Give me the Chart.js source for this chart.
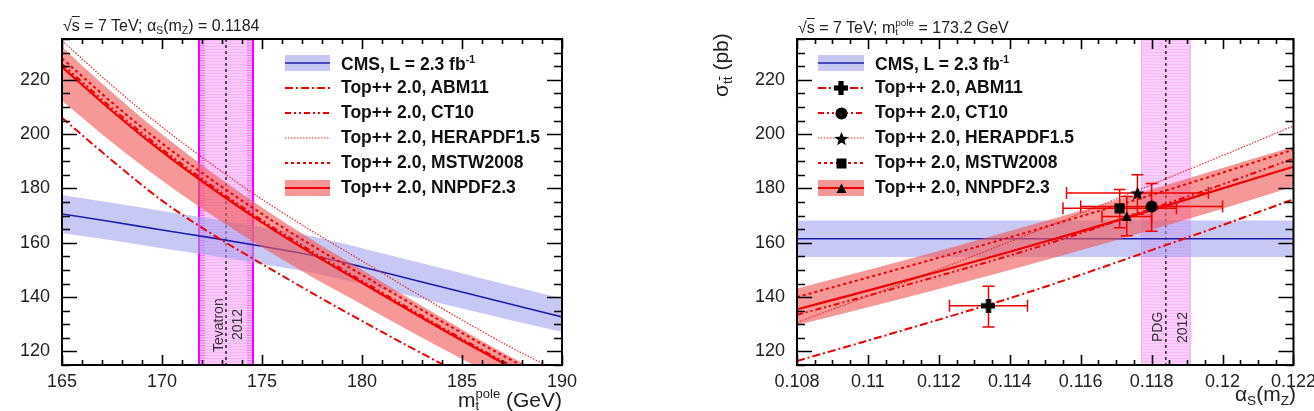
<!DOCTYPE html>
<html><head><meta charset="utf-8">
<script src="https://cdn.jsdelivr.net/npm/chart.js@4.4.1/dist/chart.umd.min.js"></script>
<style>
html,body{margin:0;padding:0;background:#fff}
#wrap{position:relative;width:1314px;height:411px;overflow:hidden;font-family:"Liberation Sans",Arial,Helvetica,sans-serif;color:#222}
canvas{position:absolute;top:0}
.t{position:absolute;white-space:nowrap;line-height:1}
.leg{font-weight:bold;font-size:17.5px;color:#111}
.ttl{font-size:16px}
.axt{font-size:21px}
.ss{display:inline-block;vertical-align:-0.28em;font-size:0.62em;line-height:0.95;text-align:left}
.ss span{display:block}
.sub{font-size:0.65em;vertical-align:-0.3em}
.ov{text-decoration:overline}
.rot{transform-origin:0 0;transform:rotate(-90deg)}
.lab{font-size:14px;color:#333}
</style></head>
<body>
<div id="wrap">
<canvas id="cL" width="657" height="411" style="left:0"></canvas>
<canvas id="cR" width="657" height="411" style="left:657px"></canvas>

<div class="t ttl" style="left:63px;top:18px">√<span class="ov">s</span> = 7 TeV; α<span class="sub">S</span>(m<span class="sub">Z</span>) = 0.1184</div>
<div class="t ttl" style="left:798px;top:18px">√<span class="ov">s</span> = 7 TeV; m<span class="ss"><span>pole</span><span>t</span></span> = 173.2 GeV</div>

<div class="t axt" style="right:752px;top:388px">m<span class="ss"><span>pole</span><span>t</span></span> (GeV)</div>
<div class="t axt" style="right:18px;top:383px">α<span class="sub">S</span>(m<span class="sub">Z</span>)</div>

<div class="t axt rot" style="left:-23px;top:97px">σ<span class="sub">t<span class="ov">t</span></span> (pb)</div>
<div class="t axt rot" style="left:710px;top:97px">σ<span class="sub">t<span class="ov">t</span></span> (pb)</div>

<div class="t lab rot" style="left:211px;top:352px">Tevatron</div>
<div class="t lab rot" style="left:230px;top:340px">2012</div>
<div class="t lab rot" style="left:1150px;top:342px">PDG</div>
<div class="t lab rot" style="left:1175px;top:343px">2012</div>

<div id="legL"></div>
<div id="legR"></div>
</div>
<script>
// ---------------- DATA ----------------
// Left panel: cross section vs top-quark pole mass (alpha_S(mZ) = 0.1184)
const massPoints   = [165, 167.5, 170, 172.5, 175, 177.5, 180, 182.5, 185, 187.5, 190];
const cmsVsMass    = [170.6, 167.7, 164.7, 161.8, 158.7, 155.4, 151.1, 146.5, 141.9, 137.3, 132.7];
const cmsVsMassLo  = [163.6, 160.9, 158.0, 155.2, 152.2, 149.0, 144.8, 140.3, 135.8, 131.4, 127.2];
const cmsVsMassHi  = [177.6, 174.7, 171.7, 168.8, 165.7, 162.4, 158.0, 153.4, 148.8, 144.1, 139.5];
const nnpdfVsMass   = [224.7, 208.5, 193.5, 180.0, 167.5, 156.0, 145.3, 134.5, 124.0, 114.0, 105.0];
const nnpdfVsMassLo = [212.3, 197.0, 182.9, 170.1, 158.3, 147.4, 137.3, 127.1, 117.2, 107.7, 99.2];
const nnpdfVsMassHi = [232.1, 215.4, 199.9, 185.9, 173.0, 161.1, 150.1, 138.9, 128.1, 117.8, 108.5];
const mstwVsMass    = [227.9, 211.6, 196.6, 183.1, 170.6, 159.0, 148.2, 137.4, 126.8, 116.7, 107.5];
const heraVsMass    = [234.4, 217.9, 202.6, 188.8, 176.0, 164.3, 153.3, 142.3, 131.6, 121.3, 112.0];
const ct10VsMass    = [225.8, 209.5, 194.5, 180.9, 168.3, 156.8, 146.0, 135.2, 124.6, 114.6, 105.5];
const abmVsMass     = [206.0, 190.3, 175.5, 163.2, 152.2, 141.5, 131.2, 121.2, 111.5, 102.5, 94.5];
const tevatronMass  = [171.8, 173.2, 174.6]; // low, central, high

// Right panel: cross section vs alpha_S(mZ) (m_t^pole = 173.2 GeV)
const alphaPoints  = [0.108, 0.110, 0.112, 0.114, 0.116, 0.118, 0.120, 0.122];
const cmsVsAlpha   = [161.5, 161.5, 161.5, 161.5, 161.5, 161.5, 161.5, 161.5];
const cmsVsAlphaLo = [154.8, 154.8, 154.8, 154.8, 154.8, 154.8, 154.8, 154.8];
const cmsVsAlphaHi = [168.2, 168.2, 168.2, 168.2, 168.2, 168.2, 168.2, 168.2];
const nnpdfVsAlpha   = [135.5, 142.4, 149.4, 156.7, 164.2, 172.0, 180.0, 188.0];
const nnpdfVsAlphaLo = [129.7, 136.3, 143.0, 150.0, 157.2, 164.8, 172.5, 180.7];
const nnpdfVsAlphaHi = [143.2, 150.0, 157.0, 164.3, 171.8, 179.6, 187.5, 195.3];
const mstwVsAlpha    = [140.0, 147.2, 154.5, 162.0, 169.7, 177.6, 185.8, 194.3];
const heraVsAlpha    = [130.7, 140.3, 150.2, 160.4, 170.8, 181.4, 192.1, 203.0];
const ct10VsAlpha    = [133.5, 140.5, 147.8, 155.3, 163.5, 172.5, 181.5, 191.0];
const abmVsAlpha     = [116.5, 124.0, 131.7, 139.6, 148.2, 157.3, 166.5, 176.0];
const pdgAlpha       = [0.1177, 0.1184, 0.1191]; // low, central, high

// Extracted alpha_S points (one per PDF set)
const pdfSets    = ['ABM11', 'CT10', 'HERAPDF1.5', 'MSTW2008', 'NNPDF2.3'];
const alphaFit   = [0.1134, 0.1180, 0.1176, 0.1171, 0.1173];
const alphaFitLo = [0.1123, 0.1160, 0.1156, 0.1155, 0.1166];
const alphaFitHi = [0.1145, 0.1200, 0.1196, 0.1187, 0.1180];
const sigmaFit   = [136.8, 173.3, 178.3, 172.7, 169.7];
const sigmaFitLo = [129.0, 164.2, 170.5, 165.5, 162.6];
const sigmaFitHi = [144.0, 181.8, 185.0, 179.6, 177.0];

// Axis ticks
const massTicks  = [165, 170, 175, 180, 185, 190];
const alphaTicks = [0.108, 0.110, 0.112, 0.114, 0.116, 0.118, 0.120, 0.122];
const alphaTickLabels = ['0.108', '0.11', '0.112', '0.114', '0.116', '0.118', '0.12', '0.122'];
const sigmaTicks = [120, 140, 160, 180, 200, 220];
const legendLabels = ['CMS, L = 2.3 fb<sup style="font-size:0.6em">-1</sup>', 'Top++ 2.0, ABM11', 'Top++ 2.0, CT10',
                      'Top++ 2.0, HERAPDF1.5', 'Top++ 2.0, MSTW2008', 'Top++ 2.0, NNPDF2.3'];

// ---------------- STYLE ----------------
const FONT = "'Liberation Sans', Arial, Helvetica, sans-serif";
const RED = 'rgb(240,0,0)';
const RED_BAND = 'rgba(242,88,88,0.62)';
const BLUE = 'rgb(30,30,170)';
const BLUE_BAND = 'rgba(160,160,238,0.58)';
const DASH = {abm:[8,3,2,3], ct10:[6,3,2,3,2,3], hera:[1.5,1.5], mstw:[3,3]};

Chart.defaults.font.family = FONT;

function xy(xs, ys) { return xs.map((x, i) => ({x: x, y: ys[i]})); }
function lineDs(xs, ys, color, width, dash, order, extra) {
  return Object.assign({type:'line', data: xy(xs, ys), borderColor: color, borderWidth: width,
    borderDash: dash, pointRadius: 0, fill: false, order: order, cubicInterpolationMode: 'monotone'}, extra || {});
}

// marker images
function markerCanvas(kind) {
  const s = kind === 'star' ? 15 : (kind === 'plus' ? 14 : (kind === 'circle' ? 13 : 11));
  const c = document.createElement('canvas'); c.width = s; c.height = s;
  const g = c.getContext('2d'); g.fillStyle = '#000'; const h = s / 2;
  if (kind === 'plus') { const a = 2.6; g.fillRect(h - a, 0, 2 * a, s); g.fillRect(0, h - a, s, 2 * a); }
  else if (kind === 'circle') { g.beginPath(); g.arc(h, h, h - 0.5, 0, Math.PI * 2); g.fill(); }
  else if (kind === 'rect') { g.fillRect(0.5, 0.5, s - 1, s - 1); }
  else if (kind === 'tri') { g.beginPath(); g.moveTo(h, 0.5); g.lineTo(s - 0.5, s - 1); g.lineTo(0.5, s - 1); g.closePath(); g.fill(); }
  else if (kind === 'star') { g.beginPath(); for (let i = 0; i < 10; i++) { const r = i % 2 ? h * 0.42 : h; const an = -Math.PI / 2 + i * Math.PI / 5; g.lineTo(h + r * Math.cos(an), h + 0.8 + r * Math.sin(an)); } g.closePath(); g.fill(); }
  return c;
}
const MARK = {plus: markerCanvas('plus'), circle: markerCanvas('circle'), star: markerCanvas('star'), rect: markerCanvas('rect'), tri: markerCanvas('tri')};
const pdfMarkers = [MARK.plus, MARK.circle, MARK.star, MARK.rect, MARK.tri];

// ---------------- PLUGINS ----------------
const vbandPlugin = {
  id: 'vband',
  beforeDatasetsDraw(chart, args, o) {
    if (!o || !o.range) return;
    const g = chart.ctx, a = chart.chartArea, sx = chart.scales.x;
    const x0 = sx.getPixelForValue(o.range[0]), xm = sx.getPixelForValue(o.range[1]), x1 = sx.getPixelForValue(o.range[2]);
    g.save();
    g.beginPath(); g.rect(a.left, a.top, a.right - a.left, a.bottom - a.top); g.clip();
    g.fillStyle = o.fill; g.fillRect(x0, a.top, x1 - x0, a.bottom - a.top);
    g.strokeStyle = o.stripe; g.lineWidth = 1;
    for (let yy = a.top + 1.5; yy < a.bottom; yy += 3) { g.beginPath(); g.moveTo(x0, yy); g.lineTo(x1, yy); g.stroke(); }
    if (o.edgeW) {
      g.strokeStyle = o.edgeStripe;
      for (let yy = a.top + 1.5; yy < a.bottom; yy += 2.5) {
        g.beginPath(); g.moveTo(x0, yy); g.lineTo(x0 + o.edgeW, yy); g.moveTo(x1 - o.edgeW, yy); g.lineTo(x1, yy); g.stroke();
      }
    }
    g.strokeStyle = o.edge; g.lineWidth = o.edgeLW;
    g.beginPath(); g.moveTo(x0 + o.edgeLW / 2, a.top); g.lineTo(x0 + o.edgeLW / 2, a.bottom);
    g.moveTo(x1 - o.edgeLW / 2, a.top); g.lineTo(x1 - o.edgeLW / 2, a.bottom); g.stroke();
    g.strokeStyle = '#333'; g.lineWidth = 1.6; g.setLineDash([3, 3]);
    g.beginPath(); g.moveTo(xm, a.top); g.lineTo(xm, a.bottom); g.stroke();
    g.restore();
  }
};

const errbarPlugin = {
  id: 'errbars',
  beforeDatasetDraw(chart, args, o) {
    if (!o || !o.on || args.meta.type !== 'scatter') return;
    const g = chart.ctx, sx = chart.scales.x, sy = chart.scales.y, cap = 6;
    g.save(); g.strokeStyle = RED; g.lineWidth = 1.5;
    for (let i = 0; i < alphaFit.length; i++) {
      const px = sx.getPixelForValue(alphaFit[i]), py = sy.getPixelForValue(sigmaFit[i]);
      const xl = sx.getPixelForValue(alphaFitLo[i]), xh = sx.getPixelForValue(alphaFitHi[i]);
      const yl = sy.getPixelForValue(sigmaFitLo[i]), yh = sy.getPixelForValue(sigmaFitHi[i]);
      g.beginPath();
      g.moveTo(xl, py); g.lineTo(xh, py); g.moveTo(xl, py - cap); g.lineTo(xl, py + cap); g.moveTo(xh, py - cap); g.lineTo(xh, py + cap);
      g.moveTo(px, yl); g.lineTo(px, yh); g.moveTo(px - cap, yl); g.lineTo(px + cap, yl); g.moveTo(px - cap, yh); g.lineTo(px + cap, yh);
      g.stroke();
    }
    g.restore();
  }
};

const framePlugin = {
  id: 'frame',
  afterDatasetsDraw(chart, args, o) {
    const g = chart.ctx, a = chart.chartArea, sx = chart.scales.x, sy = chart.scales.y;
    g.save(); g.strokeStyle = '#000'; g.lineWidth = 1.6;
    const near = (v, arr) => arr.some(t => Math.abs(t - v) < 1e-9);
    const nx = Math.round((o.xmax - o.xmin) / o.xMinor);
    g.beginPath();
    for (let i = 0; i <= nx; i++) {
      const v = o.xmin + i * o.xMinor, p = Math.round(sx.getPixelForValue(v)) + 0.5;
      const L = near(v, o.xMajor) ? 10 : 5;
      g.moveTo(p, a.bottom); g.lineTo(p, a.bottom - L);
      g.moveTo(p, a.top); g.lineTo(p, a.top + L);
    }
    const ny = Math.round((o.ymax - o.ymin) / o.yMinor);
    for (let i = 0; i <= ny; i++) {
      const v = o.ymin + i * o.yMinor, p = Math.round(sy.getPixelForValue(v)) + 0.5;
      const L = near(v, o.yMajor) ? 15 : 8;
      g.moveTo(a.left, p); g.lineTo(a.left + L, p);
      g.moveTo(a.right, p); g.lineTo(a.right - L, p);
    }
    g.stroke();
    g.lineWidth = 2;
    g.strokeRect(a.left, a.top, a.right - a.left, a.bottom - a.top);
    g.restore();
  }
};

const legendPlugin = {
  id: 'legx',
  afterDraw(chart, args, o) {
    if (!o || !o.rows) return;
    const g = chart.ctx, x0 = o.x0, x1 = o.x1, xc = (x0 + x1) / 2;
    g.save();
    o.rows.forEach((y, i) => {
      const e = o.entries[i];
      if (e.band) { g.fillStyle = e.band; g.fillRect(x0, y - 8, x1 - x0, 16); }
      g.strokeStyle = e.color; g.lineWidth = e.width; g.setLineDash(e.dash || []);
      g.beginPath(); g.moveTo(x0, y); g.lineTo(x1, y); g.stroke();
      if (o.markers && e.marker) { g.drawImage(e.marker, Math.round(xc - e.marker.width / 2), Math.round(y - e.marker.height / 2)); }
    });
    g.restore();
  }
};

// ---------------- CHART BUILDER ----------------
function options(p) {
  return {
    responsive: false, animation: false, devicePixelRatio: 1, events: [],
    layout: {padding: {left: 0, top: 39, right: p.padRight, bottom: 0}},
    scales: {
      x: {type: 'linear', min: p.xmin, max: p.xmax, grid: {display: false}, border: {display: false},
          ticks: {color: '#222', font: {size: 18, family: FONT}, padding: -2, maxRotation: 0, autoSkip: false,
                  callback: p.xLabel},
          afterBuildTicks: s => { s.ticks = p.xMajor.map(v => ({value: v})); },
          afterFit: s => { s.height = 46; }},
      y: {type: 'linear', min: 115, max: 235, grid: {display: false}, border: {display: false},
          ticks: {color: '#222', font: {size: 18, family: FONT}, padding: 4, autoSkip: false},
          afterBuildTicks: s => { s.ticks = sigmaTicks.map(v => ({value: v})); },
          afterFit: s => { s.width = p.yWidth; }}
    },
    plugins: {
      legend: {display: false}, tooltip: {enabled: false}, title: {display: false},
      filler: {propagate: false},
      vband: p.vband,
      errbars: {on: !!p.errbars},
      frame: {xmin: p.xmin, xmax: p.xmax, xMinor: p.xMinor, xMajor: p.xMajor, ymin: 115, ymax: 235, yMinor: 5, yMajor: sigmaTicks},
      legx: p.legend
    }
  };
}

function datasets(xs, v) {
  return [
    lineDs(xs, v.nnpdf, RED, 2.2, [], 1),
    lineDs(xs, v.mstw, RED, 2, DASH.mstw, 2),
    lineDs(xs, v.hera, 'rgb(235,40,40)', 1.2, DASH.hera, 3),
    lineDs(xs, v.ct10, RED, 2, DASH.ct10, 4),
    lineDs(xs, v.abm, RED, 2, DASH.abm, 5),
    lineDs(xs, v.nnpdfHi, 'rgba(0,0,0,0)', 0, [], 6, {fill: '+1', backgroundColor: RED_BAND}),
    lineDs(xs, v.nnpdfLo, 'rgba(0,0,0,0)', 0, [], 7),
    lineDs(xs, v.cms, BLUE, 1.6, [], 8),
    lineDs(xs, v.cmsHi, 'rgba(0,0,0,0)', 0, [], 9, {fill: '+1', backgroundColor: BLUE_BAND}),
    lineDs(xs, v.cmsLo, 'rgba(0,0,0,0)', 0, [], 10)
  ];
}

const legendEntries = [
  {band: BLUE_BAND, color: BLUE, width: 1.6},
  {color: RED, width: 2, dash: DASH.abm, marker: MARK.plus},
  {color: RED, width: 2, dash: DASH.ct10, marker: MARK.circle},
  {color: 'rgb(235,40,40)', width: 1.2, dash: DASH.hera, marker: MARK.star},
  {color: RED, width: 2, dash: DASH.mstw, marker: MARK.rect},
  {band: RED_BAND, color: RED, width: 2.2, marker: MARK.tri}
];
const legendRows = [63, 88, 113, 138, 163, 188];

new Chart(document.getElementById('cL'), {
  type: 'line',
  data: {datasets: datasets(massPoints, {nnpdf: nnpdfVsMass, mstw: mstwVsMass, hera: heraVsMass, ct10: ct10VsMass, abm: abmVsMass,
    nnpdfHi: nnpdfVsMassHi, nnpdfLo: nnpdfVsMassLo, cms: cmsVsMass, cmsHi: cmsVsMassHi, cmsLo: cmsVsMassLo})},
  options: options({xmin: 165, xmax: 190, xMajor: massTicks, xMinor: 1, yWidth: 62, padRight: 95,
    xLabel: v => String(v),
    vband: {range: tevatronMass, fill: 'rgb(250,200,250)', stripe: 'rgba(235,150,235,0.35)', edge: 'rgb(250,0,250)', edgeLW: 2,
            edgeStripe: 'rgb(240,110,240)', edgeW: 7},
    legend: {x0: 285, x1: 330, rows: legendRows, entries: legendEntries, markers: false}}),
  plugins: [vbandPlugin, framePlugin, legendPlugin]
});

const rightDs = datasets(alphaPoints, {nnpdf: nnpdfVsAlpha, mstw: mstwVsAlpha, hera: heraVsAlpha, ct10: ct10VsAlpha, abm: abmVsAlpha,
    nnpdfHi: nnpdfVsAlphaHi, nnpdfLo: nnpdfVsAlphaLo, cms: cmsVsAlpha, cmsHi: cmsVsAlphaHi, cmsLo: cmsVsAlphaLo});
rightDs.push({type: 'scatter', data: xy(alphaFit, sigmaFit), pointStyle: pdfMarkers, pointRadius: 7, order: 0, showLine: false});

new Chart(document.getElementById('cR'), {
  type: 'line',
  data: {datasets: rightDs},
  options: options({xmin: 0.108, xmax: 0.122, xMajor: alphaTicks, xMinor: 0.0005, yWidth: 140, padRight: 18,
    xLabel: v => { const i = alphaTicks.findIndex(t => Math.abs(t - v) < 1e-9); return i >= 0 ? alphaTickLabels[i] : ''; },
    vband: {range: pdgAlpha, fill: 'rgb(251,206,251)', stripe: 'rgba(238,150,238,0.35)', edge: 'rgb(245,170,245)', edgeLW: 1,
            edgeStripe: 'rgba(238,150,238,0.35)', edgeW: 0},
    errbars: true,
    legend: {x0: 818 - 657, x1: 864 - 657, rows: legendRows, entries: legendEntries, markers: true}}),
  plugins: [vbandPlugin, errbarPlugin, framePlugin, legendPlugin]
});

// legend texts
function legendText(id, left) {
  const el = document.getElementById(id);
  legendLabels.forEach((t, i) => {
    const d = document.createElement('div');
    d.className = 't leg'; d.style.left = left + 'px'; d.style.top = (legendRows[i] - 9) + 'px';
    d.innerHTML = t; el.appendChild(d);
  });
}
legendText('legL', 341);
legendText('legR', 875);
</script>
</body></html>
